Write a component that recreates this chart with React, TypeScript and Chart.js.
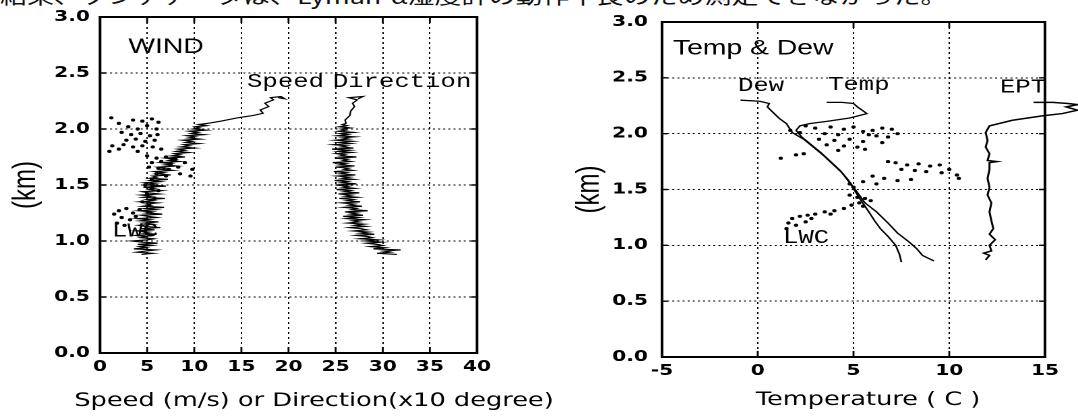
import React, { useEffect, useRef } from "react";
import { Chart, registerables } from "chart.js";

Chart.register(...registerables);

type Pt = [number, number];

// ---------------- data ----------------
const HEIGHT_TICKS = [0, 0.5, 1, 1.5, 2, 2.5, 3];
const WIND_TICKS = [0, 5, 10, 15, 20, 25, 30, 35, 40];
const TEMP_TICKS = [-5, 0, 5, 10, 15];

// [speed m/s, height km]
const WIND_SPEED: Pt[] = [
  [4.4, 0.88], [5.6, 0.89], [3.9, 0.9], [4.8, 0.91], [5.9, 0.92], [3.6, 0.93], [4.9, 0.94], [4.2, 0.95],
  [5.5, 0.96], [4.0, 0.97], [6.1, 0.98], [4.5, 0.99], [3.4, 1.0], [5.0, 1.01], [5.7, 1.02], [4.3, 1.03],
  [4.9, 1.04], [3.8, 1.05], [6.0, 1.06], [4.6, 1.07], [5.2, 1.08], [3.9, 1.09], [5.8, 1.1], [4.4, 1.11],
  [6.4, 1.12], [4.8, 1.13], [4.1, 1.14], [5.6, 1.15], [4.7, 1.16], [6.2, 1.17], [4.3, 1.18], [5.3, 1.19],
  [4.0, 1.2], [6.0, 1.21], [5.1, 1.22], [4.4, 1.23], [6.6, 1.24], [4.9, 1.25], [5.6, 1.26], [4.2, 1.27],
  [5.9, 1.28], [4.8, 1.29], [6.8, 1.3], [4.5, 1.31], [5.4, 1.32], [4.9, 1.33], [6.1, 1.34], [4.3, 1.35],
  [5.7, 1.36], [5.0, 1.37], [6.9, 1.38], [4.6, 1.39], [5.5, 1.4], [4.4, 1.41], [6.3, 1.42], [5.1, 1.43],
  [4.5, 1.44], [6.5, 1.45], [5.2, 1.46], [5.8, 1.47], [4.6, 1.48], [7.0, 1.49], [5.0, 1.5], [5.9, 1.51],
  [4.8, 1.52], [6.4, 1.53], [5.4, 1.54], [7.2, 1.55], [5.3, 1.56], [6.0, 1.57], [5.6, 1.58], [7.5, 1.59],
  [6.0, 1.6], [6.8, 1.61], [5.8, 1.62], [7.7, 1.63], [6.4, 1.64], [7.0, 1.65], [6.2, 1.66], [8.1, 1.67],
  [6.9, 1.68], [7.6, 1.69], [6.5, 1.7], [8.4, 1.71], [7.3, 1.72], [8.0, 1.73], [7.0, 1.74], [9.0, 1.75],
  [7.6, 1.76], [8.5, 1.77], [7.9, 1.78], [9.4, 1.79], [8.1, 1.8], [9.0, 1.81], [8.3, 1.82], [10.0, 1.83],
  [8.6, 1.84], [9.5, 1.85], [8.9, 1.86], [10.5, 1.87], [9.1, 1.88], [9.8, 1.89], [8.8, 1.9], [10.6, 1.91],
  [9.4, 1.92], [10.1, 1.93], [9.2, 1.94], [11.0, 1.95], [9.7, 1.96], [10.4, 1.97], [9.5, 1.98], [11.2, 1.99],
  [9.9, 2.0], [10.6, 2.01], [10.1, 2.02], [11.3, 2.03], [10.5, 2.04], [11.4, 2.05], [12.8, 2.07], [14.6, 2.1],
  [16.2, 2.12], [17.3, 2.14], [17.0, 2.17], [17.9, 2.2], [17.5, 2.23], [18.4, 2.26], [18.1, 2.28], [19.2, 2.29],
  [19.6, 2.27], [18.9, 2.28],
];

// [direction x10 deg, height km]
const WIND_DIRECTION: Pt[] = [
  [31.5, 0.88], [29.4, 0.89], [30.8, 0.9], [30.1, 0.91], [31.9, 0.92], [29.0, 0.93], [30.2, 0.94], [28.7, 0.95],
  [30.0, 0.96], [29.4, 0.97], [28.3, 0.98], [29.8, 0.99], [28.2, 1.0], [29.5, 1.01], [27.6, 1.02], [28.9, 1.03],
  [28.4, 1.04], [27.2, 1.05], [29.1, 1.06], [27.6, 1.07], [28.5, 1.08], [26.9, 1.09], [28.3, 1.1], [27.7, 1.11],
  [26.5, 1.12], [28.2, 1.13], [27.0, 1.14], [28.0, 1.15], [26.3, 1.16], [27.5, 1.17], [26.8, 1.18], [28.1, 1.19],
  [26.2, 1.2], [27.4, 1.21], [25.8, 1.22], [27.9, 1.23], [26.6, 1.24], [27.3, 1.25], [26.0, 1.26], [28.4, 1.27],
  [26.7, 1.28], [27.2, 1.29], [25.9, 1.3], [27.8, 1.31], [26.4, 1.32], [27.0, 1.33], [25.7, 1.34], [27.6, 1.35],
  [26.2, 1.36], [26.9, 1.37], [25.4, 1.38], [27.3, 1.39], [26.0, 1.4], [26.7, 1.41], [25.3, 1.42], [27.5, 1.43],
  [25.9, 1.44], [26.6, 1.45], [25.1, 1.46], [27.0, 1.47], [25.8, 1.48], [26.4, 1.49], [25.0, 1.5], [27.2, 1.51],
  [25.6, 1.52], [26.3, 1.53], [24.9, 1.54], [26.9, 1.55], [25.7, 1.56], [26.5, 1.57], [25.2, 1.58], [27.1, 1.59],
  [25.5, 1.6], [26.2, 1.61], [24.8, 1.62], [26.8, 1.63], [25.9, 1.64], [26.4, 1.65], [25.0, 1.66], [27.0, 1.67],
  [25.4, 1.68], [26.1, 1.69], [24.7, 1.7], [26.6, 1.71], [25.8, 1.72], [26.3, 1.73], [24.9, 1.74], [27.2, 1.75],
  [25.5, 1.76], [26.0, 1.77], [25.1, 1.78], [26.7, 1.79], [25.3, 1.8], [26.5, 1.81], [24.6, 1.82], [26.9, 1.83],
  [25.6, 1.84], [26.2, 1.85], [24.8, 1.86], [26.6, 1.87], [25.4, 1.88], [26.8, 1.89], [25.0, 1.9], [26.4, 1.91],
  [25.7, 1.92], [27.0, 1.93], [25.2, 1.94], [26.3, 1.95], [25.5, 1.96], [26.9, 1.97], [25.3, 1.98], [26.1, 1.99],
  [25.6, 2.0], [26.5, 2.01], [25.4, 2.02], [26.2, 2.03], [25.7, 2.04], [26.1, 2.05], [26.0, 2.08], [26.5, 2.12],
  [26.6, 2.16], [27.0, 2.2], [26.8, 2.23], [27.3, 2.26], [26.4, 2.28], [27.9, 2.29], [27.4, 2.27],
];

// LWC dots on the wind panel [x, km]
const WIND_LWC: Pt[] = [
  [1.2, 2.1], [2.0, 2.05], [3.5, 2.08], [4.5, 2.07], [5.5, 2.09], [6.2, 2.06], [3.0, 2.02], [4.0, 2.0],
  [5.0, 2.03], [6.0, 2.0], [2.3, 1.97], [3.3, 1.95], [4.3, 1.96], [5.3, 1.94], [6.1, 1.95], [2.8, 1.9],
  [3.8, 1.91], [4.8, 1.89], [5.8, 1.9], [1.3, 1.85], [2.5, 1.86], [3.5, 1.84], [4.5, 1.85], [5.6, 1.84],
  [1.0, 1.8], [2.0, 1.82], [4.0, 1.8], [6.5, 1.82], [5.0, 1.76], [6.0, 1.74], [7.0, 1.75], [8.0, 1.73],
  [5.5, 1.7], [6.5, 1.71], [7.5, 1.69], [9.0, 1.7], [5.2, 1.66], [6.2, 1.65], [7.3, 1.64], [8.3, 1.66],
  [9.8, 1.64], [6.0, 1.6], [7.0, 1.58], [8.5, 1.6], [9.6, 1.58], [5.5, 1.55], [4.8, 1.5], [5.5, 1.48],
  [6.2, 1.45], [5.0, 1.42], [5.8, 1.38], [4.5, 1.35], [5.2, 1.32], [2.0, 1.27], [2.8, 1.29], [3.5, 1.25],
  [2.3, 1.21], [3.2, 1.19], [1.8, 1.16], [2.6, 1.14], [3.8, 1.22], [4.2, 1.28], [1.5, 1.24],
];

// [temperature C, km]
const TEMP_PROFILE: Pt[] = [
  [3.6, 2.28], [4.4, 2.28], [5.0, 2.27], [5.2, 2.24], [5.7, 2.18], [4.8, 2.14], [3.6, 2.11], [2.7, 2.09],
  [2.2, 2.07], [2.0, 2.03], [2.3, 1.97], [2.8, 1.9], [3.3, 1.83], [3.8, 1.75], [4.3, 1.67], [4.7, 1.59],
  [5.0, 1.52], [5.3, 1.45], [5.6, 1.38], [6.2, 1.3], [6.8, 1.2], [7.3, 1.11], [7.9, 1.03], [8.3, 0.97],
  [8.6, 0.91], [9.2, 0.86],
];

const DEW_PROFILE: Pt[] = [
  [-0.9, 2.3], [0.1, 2.29], [0.6, 2.27], [0.5, 2.24], [0.8, 2.19], [1.1, 2.14], [1.5, 2.09], [1.8, 2.01],
  [2.4, 1.95], [2.9, 1.88], [3.4, 1.81], [3.9, 1.73], [4.4, 1.65], [4.8, 1.56], [5.1, 1.48], [5.4, 1.4],
  [5.8, 1.3], [6.1, 1.22], [6.4, 1.15], [6.8, 1.08], [7.2, 1.0], [7.4, 0.92], [7.5, 0.85],
];

const EPT_PROFILE: Pt[] = [
  [14.4, 2.28], [15.4, 2.28], [16.2, 2.27], [16.7, 2.26], [16.1, 2.24], [16.7, 2.21], [15.9, 2.18], [14.9, 2.16],
  [13.3, 2.12], [12.1, 2.07], [11.9, 2.01], [12.0, 1.94], [11.9, 1.88], [12.1, 1.82], [12.0, 1.76], [12.5, 1.75],
  [12.1, 1.74], [12.1, 1.68], [12.0, 1.6], [12.1, 1.52], [12.0, 1.45], [12.2, 1.38], [12.1, 1.3], [12.2, 1.22],
  [12.3, 1.15], [12.1, 1.1], [12.4, 1.05], [12.1, 1.0], [12.2, 0.95], [11.8, 0.93], [12.1, 0.91], [11.9, 0.87],
];

const TEMP_LWC: Pt[] = [
  [2.5, 2.07], [3.0, 2.05], [3.8, 2.06], [4.5, 2.04], [5.0, 2.06], [5.5, 2.02], [6.0, 2.03], [6.5, 2.05],
  [7.0, 2.04], [3.5, 2.0], [4.2, 1.99], [5.8, 1.99], [6.2, 1.98], [6.8, 1.97], [7.3, 2.0], [1.7, 2.03],
  [2.2, 2.01], [3.2, 1.95], [4.0, 1.94], [4.8, 1.95], [5.5, 1.93], [6.5, 1.92], [3.6, 1.9], [4.5, 1.89],
  [5.2, 1.88], [1.2, 1.78], [2.0, 1.81], [2.4, 1.82], [4.2, 1.85], [5.6, 1.86], [6.8, 1.75], [7.2, 1.74],
  [7.8, 1.72], [8.4, 1.73], [9.0, 1.71], [9.5, 1.72], [10.0, 1.68], [7.5, 1.68], [8.2, 1.67], [8.8, 1.66],
  [9.6, 1.65], [10.4, 1.63], [10.5, 1.6], [6.0, 1.62], [6.6, 1.6], [7.3, 1.58], [8.0, 1.59], [5.5, 1.57],
  [6.2, 1.55], [4.8, 1.55], [5.0, 1.52], [4.8, 1.45], [5.2, 1.43], [5.6, 1.42], [5.9, 1.4], [5.3, 1.38],
  [4.9, 1.36], [5.5, 1.35], [4.5, 1.33], [4.0, 1.31], [3.5, 1.3], [3.0, 1.28], [2.6, 1.27], [2.2, 1.26],
  [1.8, 1.24], [1.6, 1.2], [2.0, 1.18], [2.5, 1.21], [1.5, 1.15], [2.8, 1.24], [3.8, 1.28],
];

// in-plot text anchors, in data units
const WIND_LABELS = [
  { text: "WIND", x: 3.0, y: 2.68, kind: "title" },
  { text: "Speed", x: 15.6, y: 2.375, kind: "mono" },
  { text: "Direction", x: 24.7, y: 2.375, kind: "mono" },
  { text: "LWC", x: 1.27, y: 1.04, kind: "mono" },
];
const TEMP_LABELS = [
  { text: "Temp & Dew", x: -4.43, y: 2.71, kind: "title" },
  { text: "Dew", x: -1.03, y: 2.38, kind: "mono" },
  { text: "Temp", x: 3.67, y: 2.39, kind: "mono" },
  { text: "EPT", x: 12.65, y: 2.37, kind: "mono" },
  { text: "LWC", x: 1.32, y: 1.02, kind: "mono" },
];

const WIND_X_TITLE = "Speed (m/s) or Direction(x10 degree)";
const TEMP_X_TITLE = "Temperature ( C )";
const Y_TITLE = "(km)";
const CAPTION = "結果、ゾンデデータは、Lyman-α湿度計の動作不良のため測定できなかった。";

// ---------------- rendering ----------------
const H = 419;
const FONTS: Record<string, string> = {
  title: '21px "Liberation Sans"',
  mono: '19px "Liberation Mono"',
  axis: '19px "DejaVu Sans"',
};

const toXY = (arr: Pt[]) => arr.map(([x, y]) => ({ x, y }));

const framePlugin = {
  id: "frame",
  afterDatasetsDraw(chart: any, _args: any, opts: any) {
    const { ctx, chartArea: a, scales } = chart;
    const s = opts.stretch || 1;
    ctx.save();
    ctx.strokeStyle = "#000";
    ctx.lineWidth = 2;
    ctx.strokeRect(a.left, a.top, a.right - a.left, a.bottom - a.top);
    ctx.lineWidth = 1.4;
    const tl = 6;
    ctx.beginPath();
    for (const t of scales.x.ticks) {
      const px = scales.x.getPixelForValue(t.value);
      if (px <= a.left + 1 || px >= a.right - 1) continue;
      ctx.moveTo(px, a.bottom);
      ctx.lineTo(px, a.bottom - tl);
      ctx.moveTo(px, a.top);
      ctx.lineTo(px, a.top + tl);
    }
    for (const t of scales.y.ticks) {
      const py = scales.y.getPixelForValue(t.value);
      if (py <= a.top + 1 || py >= a.bottom - 1) continue;
      ctx.moveTo(a.left, py);
      ctx.lineTo(a.left + tl / s, py);
      ctx.moveTo(a.right, py);
      ctx.lineTo(a.right - tl / s, py);
    }
    ctx.stroke();
    ctx.fillStyle = "#000";
    ctx.textAlign = "left";
    ctx.textBaseline = "alphabetic";
    for (const l of opts.labels || []) {
      ctx.font = FONTS[l.kind];
      ctx.fillText(l.text, scales.x.getPixelForValue(l.x), scales.y.getPixelForValue(l.y));
    }
    // x axis title (drawn here so it is not squeezed to the plot width)
    ctx.font = FONTS.axis;
    ctx.textAlign = "center";
    ctx.fillText(opts.xTitle, opts.xTitleCx / s, opts.xTitleBase);
    ctx.restore();
  },
};

interface PanelProps {
  cssLeft: number;
  cssWidth: number;
  logicalWidth: number;
  area: { left: number; top: number; right: number; bottom: number };
  xMin: number;
  xMax: number;
  xTicks: number[];
  xTitle: string;
  xTitleCx: number;
  xTitleBase: number;
  yTitleX: number;
  yTickGap: number;
  datasets: any[];
  labels: any[];
}

function Panel(p: PanelProps) {
  const ref = useRef<HTMLCanvasElement | null>(null);
  useEffect(() => {
    if (!ref.current) return;
    const s = p.cssWidth / p.logicalWidth;
    const yWidth = p.area.left / s;
    const rightPad = p.logicalWidth - p.area.right / s;
    const xHeight = H - p.area.bottom;
    const yTitleSize = 24;
    const yTitlePad = p.yTitleX / s - (yTitleSize * 1.2) / 2;
    const tickFont = { family: "DejaVu Sans", size: 15, weight: "bold" as const };

    const chart = new Chart(ref.current, {
      type: "scatter",
      data: { datasets: p.datasets },
      plugins: [framePlugin],
      options: {
        animation: false,
        responsive: false,
        devicePixelRatio: 2,
        events: [],
        layout: { padding: { left: 0, top: p.area.top, right: rightPad, bottom: 0 } },
        plugins: {
          legend: { display: false },
          tooltip: { enabled: false },
          frame: { stretch: s, labels: p.labels, xTitle: p.xTitle, xTitleCx: p.xTitleCx, xTitleBase: p.xTitleBase },
        } as any,
        scales: {
          x: {
            type: "linear",
            min: p.xMin,
            max: p.xMax,
            afterBuildTicks: (scale: any) => {
              scale.ticks = p.xTicks.map((value) => ({ value }));
            },
            afterFit: (scale: any) => {
              scale.height = xHeight;
            },
            ticks: { font: tickFont, color: "#000", padding: 5, maxRotation: 0, autoSkip: false },
            grid: { color: "#000", lineWidth: 1, drawTicks: false },
            border: { display: false, dash: [2, 3] },
          },
          y: {
            type: "linear",
            min: 0,
            max: 3,
            afterBuildTicks: (scale: any) => {
              scale.ticks = HEIGHT_TICKS.map((value) => ({ value }));
            },
            afterFit: (scale: any) => {
              scale.width = yWidth;
            },
            ticks: {
              font: tickFont,
              color: "#000",
              padding: p.yTickGap / s,
              callback: (v: any) => Number(v).toFixed(1),
            },
            grid: { color: "#000", lineWidth: 1, drawTicks: false },
            border: { display: false, dash: [1.5, 2.3] },
            title: {
              display: true,
              text: Y_TITLE,
              color: "#000",
              font: { family: "Liberation Sans", size: yTitleSize },
              padding: { top: yTitlePad, bottom: 0 },
            },
          },
        },
      },
    } as any);
    return () => chart.destroy();
  }, []);
  return (
    <canvas
      ref={ref}
      width={p.logicalWidth}
      height={H}
      style={{ position: "absolute", left: p.cssLeft, top: 0, width: `${p.cssWidth}px`, height: `${H}px` }}
    />
  );
}

const lineDs = (label: string, pts: Pt[], width: number, extra: any = {}) => ({
  label,
  data: toXY(pts),
  showLine: true,
  borderColor: "#000",
  borderWidth: width,
  pointRadius: 0,
  tension: 0,
  ...extra,
});

const dotDs = (label: string, pts: Pt[]) => ({
  label,
  data: toXY(pts),
  showLine: false,
  pointRadius: 1.6,
  pointBackgroundColor: "#000",
  pointBorderWidth: 0,
});

export default function App() {
  return (
    <div
      style={{
        position: "absolute",
        left: 0,
        top: 0,
        width: 1078,
        height: H,
        overflow: "hidden",
        background: "#fff",
      }}
    >
      <div
        style={{
          position: "absolute",
          left: 0,
          top: -14,
          fontFamily: '"Noto Sans CJK JP", sans-serif',
          fontSize: 20,
          lineHeight: "20px",
          whiteSpace: "nowrap",
          transform: "scaleX(1.35)",
          transformOrigin: "left top",
          color: "#111",
        }}
      >
        {CAPTION}
      </div>
      <Panel
        cssLeft={540}
        cssWidth={538}
        logicalWidth={399}
        area={{ left: 122, top: 22, right: 505, bottom: 357 }}
        xMin={-5}
        xMax={15}
        xTicks={TEMP_TICKS}
        xTitle={TEMP_X_TITLE}
        xTitleCx={328}
        xTitleBase={405}
        yTitleX={50}
        yTickGap={14}
        datasets={[
          lineDs("Temp", TEMP_PROFILE, 1.3),
          lineDs("Dew", DEW_PROFILE, 1.3),
          lineDs("EPT", EPT_PROFILE, 1.5, { clip: false }),
          dotDs("LWC", TEMP_LWC),
        ]}
        labels={TEMP_LABELS}
      />
      <Panel
        cssLeft={0}
        cssWidth={580}
        logicalWidth={430}
        area={{ left: 100, top: 17, right: 477, bottom: 353 }}
        xMin={0}
        xMax={40}
        xTicks={WIND_TICKS}
        xTitle={WIND_X_TITLE}
        xTitleCx={314}
        xTitleBase={406}
        yTitleX={26}
        yTickGap={10}
        datasets={[
          lineDs("Speed", WIND_SPEED, 1.2),
          lineDs("Direction", WIND_DIRECTION, 1.2),
          dotDs("LWC", WIND_LWC),
        ]}
        labels={WIND_LABELS}
      />
    </div>
  );
}
